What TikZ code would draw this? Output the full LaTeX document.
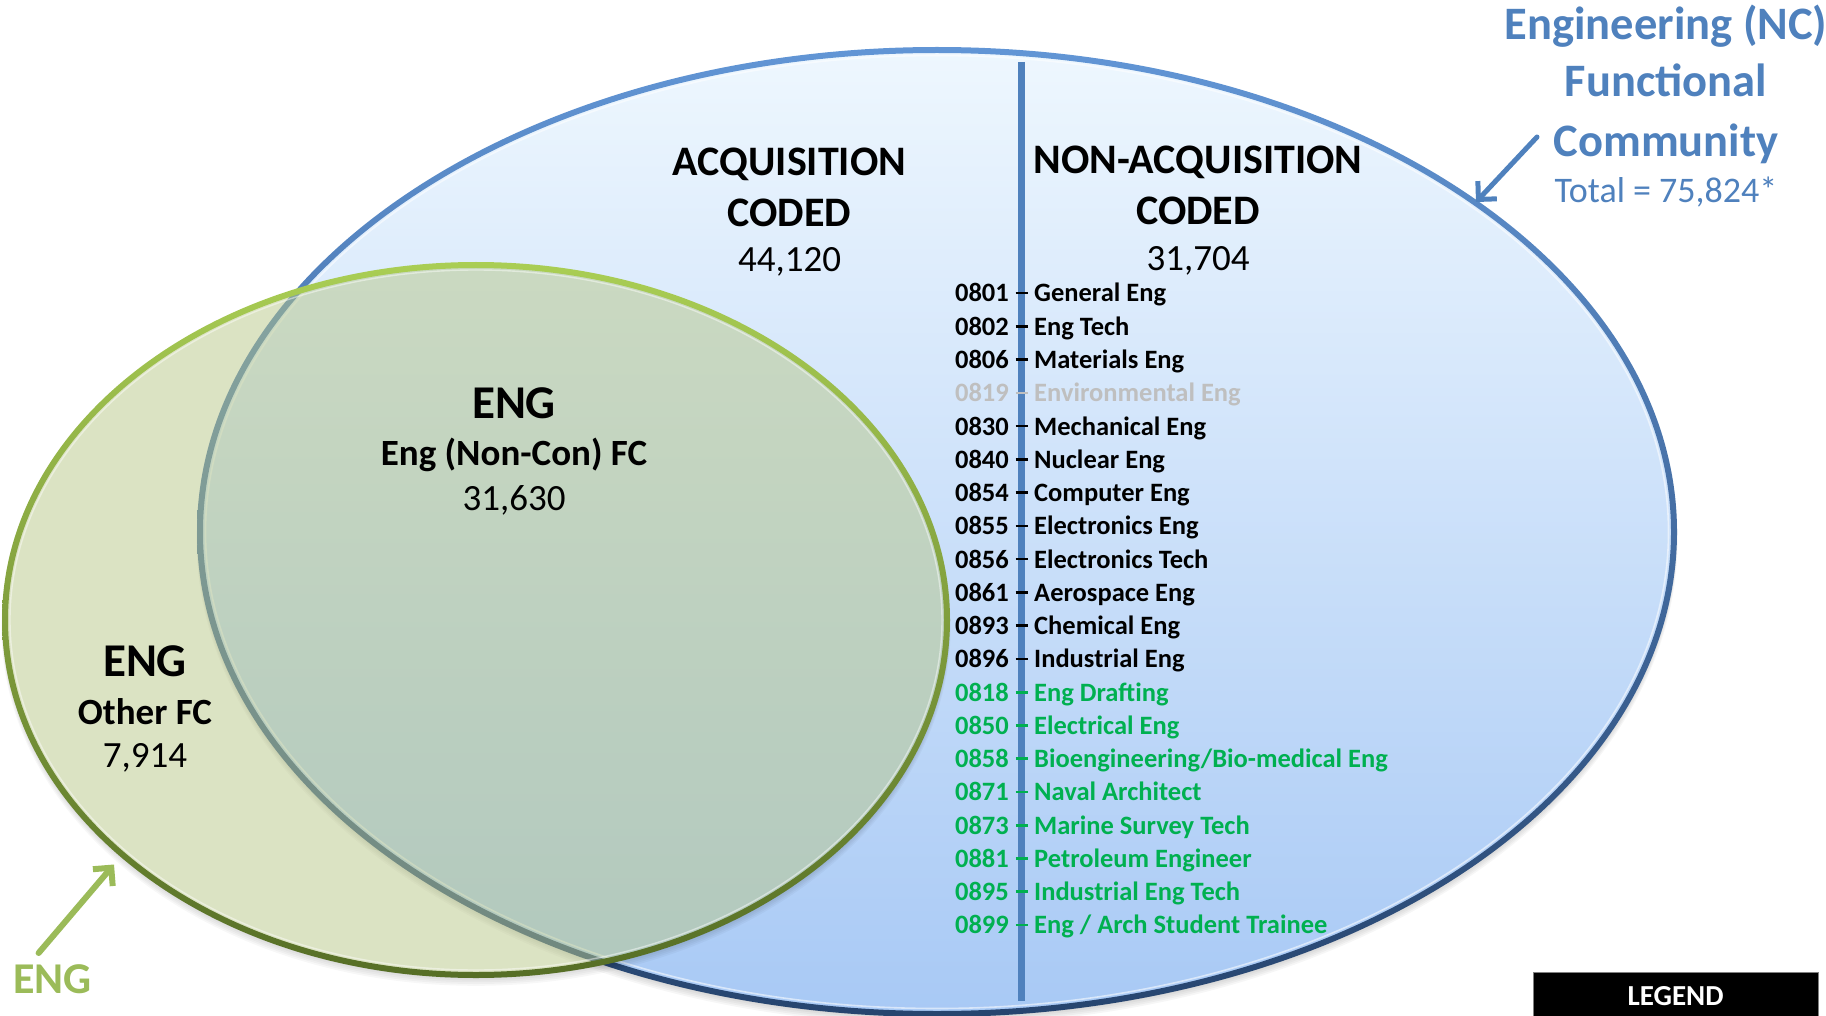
\documentclass[tikz,border=0pt]{standalone}
\usepackage{fontspec}
\setmainfont{Carlito}
\usetikzlibrary{arrows.meta,calc}
\definecolor{titleblue}{RGB}{79,129,189}
\definecolor{listgreen}{RGB}{0,176,80}
\definecolor{enggreen}{RGB}{155,187,89}
\definecolor{graytxt}{RGB}{191,191,191}
\definecolor{bluetop}{RGB}{238,247,254}
\definecolor{bluemid}{RGB}{213,232,251}
\definecolor{bluebot}{RGB}{168,201,245}
\definecolor{ringlight}{RGB}{98,150,214}
\definecolor{ringmid}{RGB}{62,102,158}
\definecolor{ringdark}{RGB}{38,68,110}
\definecolor{gfill}{RGB}{184,199,136}
\definecolor{gringlight}{RGB}{170,206,84}
\definecolor{gringmid}{RGB}{128,158,60}
\definecolor{gringdark}{RGB}{86,110,38}
\begin{document}
\begin{tikzpicture}[x=1pt,y=-1pt,
  txt/.style={inner sep=0pt, anchor=base},
  head/.style={txt, font=\fontsize{42}{50}\selectfont\bfseries},
  bignum/.style={txt, font=\fontsize{37}{44}\selectfont},
  engbig/.style={txt, font=\fontsize{47}{56}\selectfont\bfseries},
  fcname/.style={txt, font=\fontsize{37}{44}\selectfont\bfseries},
  titlebold/.style={txt, text=titleblue, font=\fontsize{46.5}{55}\selectfont\bfseries},
  titlereg/.style={txt, text=titleblue, font=\fontsize{36}{43}\selectfont},
  itemfont/.style={inner sep=0pt, font=\fontsize{26.5}{30}\selectfont\bfseries},
  codecell/.style={itemfont, anchor=base east},
  dashcell/.style={inner sep=0pt, anchor=base},
  labcell/.style={itemfont, anchor=base west},
  arrowline/.style={line width=#1, line cap=round, -{Straight Barb[length=13pt,width=26pt]}},
]
\useasboundingbox (0,0) rectangle (1826,1016);

% ---------- blue ellipse ----------
\coordinate (bc) at (937,532);
\foreach \k in {1,...,6}{
  \fill[black, opacity=0.035] ($(bc)+(0,{1.2*\k})$) ellipse [x radius={737+0.6*\k}, y radius={482+0.6*\k}];
}
\shade[top color=bluetop, middle color=bluemid, bottom color=bluebot] (bc) ellipse [x radius=737, y radius=482];
\begin{scope}[even odd rule]
  \clip (bc) ellipse [x radius=740, y radius=485] (bc) ellipse [x radius=734, y radius=479];
  \shade[top color=ringlight, middle color=ringmid, bottom color=ringdark] (190,40) rectangle (1690,1025);
\end{scope}
\draw[white, opacity=0.55, line width=1.6pt] (bc) ellipse [x radius=731.5, y radius=476.5];

% vertical divider
\coordinate (vtop) at (1021.5,62);
\coordinate (vbot) at (1021.5,1001);
\draw[titleblue, line width=7pt] (vtop) -- (vbot);

% ---------- green ellipse ----------
\coordinate (gc) at (476,620);
\begin{scope}[even odd rule]
  \clip (-10,-10) rectangle (1840,1030) (gc) ellipse [x radius=471, y radius=355];
  \foreach \k in {1,...,6}{
    \fill[black, opacity=0.03] ($(gc)+(0,{1.2*\k})$) ellipse [x radius={471+0.6*\k}, y radius={355+0.6*\k}];
  }
\end{scope}
\fill[gfill, opacity=0.5] (gc) ellipse [x radius=471, y radius=355];
\begin{scope}[even odd rule]
  \clip (gc) ellipse [x radius=474, y radius=358] (gc) ellipse [x radius=468, y radius=352];
  \shade[top color=gringlight, middle color=gringmid, bottom color=gringdark] (0,260) rectangle (952,980);
\end{scope}
\draw[white, opacity=0.45, line width=1.4pt] (gc) ellipse [x radius=466, y radius=350];

% ---------- headings ----------
\node[head] (acq1) at (789.5,176) {ACQUISITION};
\node[head] (acq2) at (789.5,227) {CODED};
\node[bignum] (acqn) at (789.5,272) {44,120};
\node[head] (nacq1) at (1198,174) {NON-ACQUISITION};
\node[head] (nacq2) at (1198,225) {CODED};
\node[bignum] (nacqn) at (1198,271) {31,704};

% ---------- list ----------
\foreach \c/\t/\col [count=\i from 0] in {
  0801/{General Eng}/black,
  0802/{Eng Tech}/black,
  0806/{Materials Eng}/black,
  0819/{Environmental Eng}/graytxt,
  0830/{Mechanical Eng}/black,
  0840/{Nuclear Eng}/black,
  0854/{Computer Eng}/black,
  0855/{Electronics Eng}/black,
  0856/{Electronics Tech}/black,
  0861/{Aerospace Eng}/black,
  0893/{Chemical Eng}/black,
  0896/{Industrial Eng}/black,
  0818/{Eng Drafting}/listgreen,
  0850/{Electrical Eng}/listgreen,
  0858/{Bioengineering/Bio-medical Eng}/listgreen,
  0871/{Naval Architect}/listgreen,
  0873/{Marine Survey Tech}/listgreen,
  0881/{Petroleum Engineer}/listgreen,
  0895/{Industrial Eng Tech}/listgreen,
  0899/{Eng / Arch Student Trainee}/listgreen}{
  \node[codecell, text=\col] (code\i) at (1009,{302+33.26*\i}) {\c};
  \node[dashcell, text=\col] (dash\i) at (1021.5,{302+33.26*\i}) {\color{\col}\rule[7.6pt]{12pt}{2.6pt}};
  \node[labcell, text=\col] (lab\i) at (1034,{302+33.26*\i}) {\t};
}

% ---------- green ellipse labels ----------
\node[engbig] (eng1) at (514,418) {ENG};
\node[fcname] (fc1) at (514,465) {Eng (Non-Con) FC};
\node[bignum] (n1) at (514,510) {31,630};
\node[engbig] (eng2) at (145,676) {ENG};
\node[fcname] (fc2) at (145,724) {Other FC};
\node[bignum] (n2) at (145,767) {7,914};

% ---------- title ----------
\node[titlebold] (t1) at (1666,40) {Engineering (NC)};
\node[titlebold] (t2) at (1666,97) {Functional};
\node[titlebold] (t3) at (1666,157) {Community};
\node[titlereg] (t4) at (1666,203) {Total = 75,824*};

\coordinate (barS) at (1537,137);
\coordinate (barE) at (1476,202);
\draw[titleblue, arrowline=5pt] (barS) -- (barE);

% ---------- ENG pointer ----------
\node[txt, text=enggreen, font=\fontsize{44}{52}\selectfont\bfseries] (engpt) at (52.5,993) {ENG};
\coordinate (garS) at (38.6,953);
\coordinate (garE) at (114,864.5);
\draw[enggreen, arrowline=6pt] (garS) -- (garE);

% ---------- legend ----------
\node[fill=black, draw=gray, line width=0.8pt, anchor=north west, minimum width=285pt, minimum height=60pt, inner sep=0pt] (legendbox) at (1533,972) {};
\node[txt, text=white, font=\fontsize{29}{35}\selectfont\bfseries] (legend) at (1675.5,1005) {LEGEND};
\end{tikzpicture}
\end{document}
